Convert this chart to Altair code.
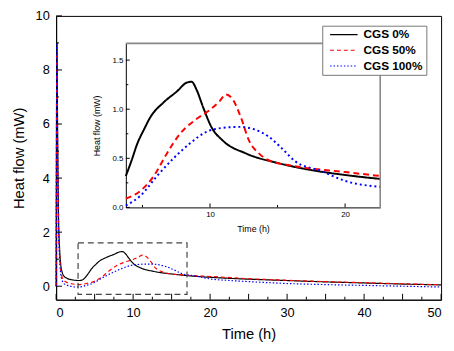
import altair as alt
import pandas as pd

series_names = ["CGS 0%", "CGS 50%", "CGS 100%"]

t_black = [0.0, 0.1, 0.2, 0.3, 0.45, 0.6, 0.8, 1.0, 1.5, 2.0, 2.5, 3.0, 3.4, 3.77, 4.2, 4.62,
           5.1, 5.59, 6.57, 7.54, 8.27, 8.64, 9.0, 9.49, 10.1, 10.95, 12.65, 15.08, 17.5, 20.0,
           22.6, 25, 30, 35, 40, 45, 50]
y_black = [0.0, 9.0, 5.5, 2.8, 1.4, 0.8, 0.5, 0.38, 0.28, 0.24, 0.22, 0.21, 0.23, 0.32, 0.48, 0.65,
           0.79, 0.92, 1.07, 1.18, 1.27, 1.28, 1.2, 1.02, 0.82, 0.68, 0.55, 0.45, 0.38, 0.33,
           0.29, 0.26, 0.21, 0.16, 0.12, 0.08, 0.05]

t_red = [0.0, 0.1, 0.2, 0.3, 0.45, 0.6, 0.8, 1.0, 1.5, 2.0, 2.5, 3.0, 3.4, 3.77, 4.86, 5.84,
         6.81, 7.78, 9.0, 9.97, 10.7, 11.19, 11.68, 12.28, 12.89, 13.62, 14.35, 16.3, 20.0,
         22.6, 25, 30, 35, 40, 45, 50]
y_red = [0.0, 8.6, 5.0, 2.5, 1.2, 0.6, 0.32, 0.22, 0.13, 0.09, 0.07, 0.06, 0.07, 0.09, 0.17, 0.32,
         0.55, 0.75, 0.90, 0.99, 1.08, 1.15, 1.10, 0.92, 0.68, 0.55, 0.48, 0.42, 0.36,
         0.32, 0.28, 0.22, 0.17, 0.13, 0.09, 0.05]

t_blue = [0.0, 0.1, 0.2, 0.3, 0.45, 0.6, 0.8, 1.0, 1.5, 2.0, 2.5, 3.0, 3.4, 3.77, 4.86, 6.08,
          7.3, 8.5, 9.73, 10.95, 12.16, 13.38, 14.35, 15.33, 16.3, 18.25, 20.0, 22.6, 25, 30,
          35, 40, 45, 50]
y_blue = [0.0, 9.0, 4.8, 2.2, 1.0, 0.45, 0.2, 0.1, 0.03, -0.01, -0.03, -0.03, -0.01, 0.02, 0.12, 0.32,
          0.50, 0.65, 0.77, 0.81, 0.82, 0.79, 0.72, 0.60, 0.47, 0.37, 0.27, 0.21, 0.17, 0.10,
          0.06, 0.03, 0.0, -0.03]

main_x_major = [0, 5, 10, 15, 20, 25, 30, 35, 40, 45, 50]
main_x_minor = [2.5, 7.5, 12.5, 17.5, 22.5, 27.5, 32.5, 37.5, 42.5, 47.5]
main_y_major = [0, 2, 4, 6, 8, 10]
main_y_minor = [1, 3, 5, 7, 9]

inset_x_major = [10, 20]
inset_x_minor = [5, 15]
inset_y_major = [0.0, 0.5, 1.0, 1.5]
inset_y_minor = [0.25, 0.75, 1.25]

zoom_box = {"t": [2.85], "t2": [17.0], "y": [-0.3], "y2": [1.6]}
inset_domain_t = [3.77, 22.6]
inset_domain_y = [0.0, 1.67]

colors = ["black", "red", "blue"]

rows = []
for name, ts, ys in zip(series_names, [t_black, t_red, t_blue], [y_black, y_red, y_blue]):
    for t, y in zip(ts, ys):
        rows.append({"t": t, "y": y, "series": name})
df = pd.DataFrame(rows)

W, H = 392, 289
FONT = "Liberation Sans"

x_main = alt.Scale(domain=[0, 50], nice=False, zero=False)
y_main = alt.Scale(domain=[-0.5, 10], nice=False, zero=False)

legend = alt.Legend(
    orient="none", legendX=271, legendY=10, title=None,
    symbolType="stroke", symbolSize=784, symbolStrokeWidth=1.2,
    clipHeight=12, rowPadding=4, padding=3, symbolOffset=4,
    labelFont=FONT, labelFontWeight="bold", labelFontSize=12, labelOffset=5,
    labelColor="black", strokeColor="#777", fillColor="white",
)

main_lines = alt.Chart(df).mark_line(strokeWidth=1.2, interpolate="monotone").encode(
    x=alt.X("t:Q", scale=x_main,
            axis=alt.Axis(values=main_x_major, tickSize=0, labelPadding=7, labelFontSize=13,
                          title="Time (h)", titleFontSize=15, titlePadding=8,
                          titleFontWeight="normal")),
    y=alt.Y("y:Q", scale=y_main,
            axis=alt.Axis(values=main_y_major, tickSize=0, labelPadding=7, labelFontSize=13,
                          title="Heat flow (mW)", titleFontSize=15, titlePadding=9,
                          titleFontWeight="normal")),
    color=alt.Color("series:N", scale=alt.Scale(domain=series_names, range=colors), legend=legend),
    strokeDash=alt.StrokeDash("series:N",
                              scale=alt.Scale(domain=series_names, range=[[1, 0], [4, 3], [1.5, 2]]),
                              legend=legend),
)

box = alt.Chart(pd.DataFrame(zoom_box)).mark_rect(
    filled=False, stroke="#444", strokeDash=[6, 4], strokeWidth=1.2
).encode(
    x=alt.X("t:Q", scale=x_main), x2="t2:Q",
    y=alt.Y("y:Q", scale=y_main), y2="y2:Q",
)

def xticks(vals, scale, y0, length):
    return alt.Chart(pd.DataFrame({"t": vals})).mark_rule(color="black", strokeWidth=1).encode(
        x=alt.X("t:Q", scale=scale), y=alt.value(y0), y2=alt.value(y0 - length))

def yticks(vals, scale, x0, length):
    return alt.Chart(pd.DataFrame({"y": vals})).mark_rule(color="black", strokeWidth=1).encode(
        y=alt.Y("y:Q", scale=scale), x=alt.value(x0), x2=alt.value(x0 + length))

main = alt.layer(
    main_lines, box,
    xticks(main_x_major, x_main, H, 6), xticks(main_x_minor, x_main, H, 3),
    yticks(main_y_major, y_main, 0, 6), yticks(main_y_minor, y_main, 0, 3),
)

# inset
IX0, IX1 = 71, 330
IY0, IY1 = 195, 28
x_in = alt.Scale(domain=inset_domain_t, range=[IX0, IX1], nice=False, zero=False)
y_in = alt.Scale(domain=inset_domain_y, range=[IY0, IY1], nice=False, zero=False)

inset_df = df[(df.t >= inset_domain_t[0]) & (df.t <= inset_domain_t[1])]

x_in_axis = alt.Axis(orient="bottom", offset=IY0 - H, values=inset_x_major, tickSize=0,
                     labelPadding=3.5, labelFontSize=8, title="Time (h)", titleFontSize=9,
                     titlePadding=6, titleFontWeight="normal")
y_in_axis = alt.Axis(orient="left", offset=-IX0, values=inset_y_major, format=".1f", tickSize=0,
                     labelPadding=3, labelFontSize=8, title="Heat flow (mW)", titleFontSize=9,
                     titlePadding=11, titleFontWeight="normal")

inset_dash = [[1, 0], [6, 4], [2, 3]]
inset_lines = []
for name, col, dash in zip(series_names, colors, inset_dash):
    inset_lines.append(
        alt.Chart(inset_df).transform_filter(alt.datum.series == name)
        .mark_line(color=col, strokeDash=dash, strokeWidth=2, interpolate="monotone")
        .encode(x=alt.X("t:Q", scale=x_in, axis=x_in_axis),
                y=alt.Y("y:Q", scale=y_in, axis=y_in_axis))
    )

frame_df = pd.DataFrame({"t": [inset_domain_t[0]], "t2": [inset_domain_t[1]],
                         "y": [inset_domain_y[1]], "y2": [inset_domain_y[0]]})
top_border = alt.Chart(frame_df).mark_rule(color="#888", strokeWidth=1.6).encode(
    x=alt.X("t:Q", scale=x_in), x2="t2:Q", y=alt.Y("y:Q", scale=y_in))
right_border = alt.Chart(frame_df).mark_rule(color="#888", strokeWidth=1.6).encode(
    x=alt.X("t2:Q", scale=x_in), y=alt.Y("y:Q", scale=y_in), y2="y2:Q")

inset = alt.layer(
    *inset_lines, top_border, right_border,
    xticks(inset_x_major, x_in, IY0, 4), xticks(inset_x_minor, x_in, IY0, 2.5),
    yticks(inset_y_major, y_in, IX0, 4), yticks(inset_y_minor, y_in, IX0, 2.5),
)

chart = alt.layer(main, inset).resolve_scale(x="independent", y="independent").properties(
    width=W, height=H,
    autosize=alt.AutoSizeParams(type="none"),
    padding={"left": 49, "top": 5, "right": 5, "bottom": 40},
).configure_view(stroke="black", strokeWidth=1).configure_axis(
    grid=False, domainColor="black", labelColor="black", titleColor="black",
    labelFont=FONT, titleFont=FONT, titleFontWeight="normal",
)

chart.save("out.html", embed_options={"renderer": "svg", "actions": False})
